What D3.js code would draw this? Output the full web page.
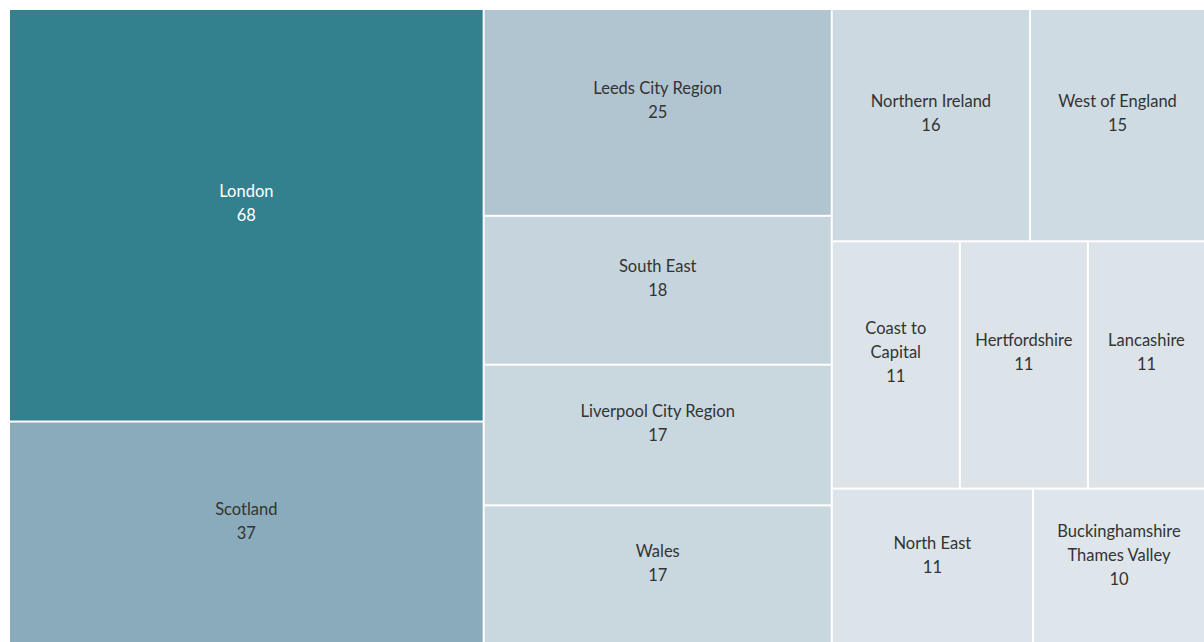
<!DOCTYPE html>
<html>
<head>
<meta charset="utf-8">
<script src="https://cdn.jsdelivr.net/npm/d3@7"></script>
<style>
  body { margin: 0; background: #fff; overflow: hidden; }
  text { font-family: Lato, "Noto Sans", sans-serif; font-size: 16.5px; }
</style>
</head>
<body>
<svg id="chart" width="1204" height="642"></svg>
<script>
// regions and their counts
const regions = ["London", "Scotland", "Leeds City Region", "South East", "Liverpool City Region",
  "Wales", "Northern Ireland", "West of England", "Coast to Capital", "Hertfordshire",
  "Lancashire", "North East", "Buckinghamshire Thames Valley"];
const counts = [68, 37, 25, 18, 17, 17, 16, 15, 11, 11, 11, 11, 10];

const margin = {top: 10, left: 10};
const width = 1205, height = 635;

const svg = d3.select("#chart");
const g = svg.append("g").attr("transform", "translate(" + margin.left + "," + margin.top + ")");

const root = d3.hierarchy({children: regions.map((r, i) => ({name: r, value: counts[i]}))})
  .sum(d => d.value || 0)
  .sort((a, b) => b.value - a.value);

d3.treemap()
  .tile(d3.treemapSquarify)
  .size([width, height])
  .paddingInner(2)(root);

const color = d3.scaleLinear()
  .domain([10, 37, 68])
  .range(["#dfe6eb", "#8aabbb", "#33808f"]);

const cell = g.selectAll("g.cell").data(root.leaves()).enter().append("g")
  .attr("class", "cell")
  .attr("transform", d => "translate(" + d.x0 + "," + d.y0 + ")");

cell.append("rect")
  .attr("width", d => d.x1 - d.x0)
  .attr("height", d => d.y1 - d.y0)
  .attr("fill", d => color(d.value));

cell.each(function(d) {
  // keep labels inside the visible part of the svg
  const w = Math.min(d.x1, 1194) - d.x0, h = d.y1 - d.y0;
  const el = d3.select(this);
  const txt = el.append("text")
    .attr("text-anchor", "middle")
    .attr("fill", d.value > 50 ? "#ffffff" : "#333333");

  // wrap the name to the box width
  const words = d.data.name.split(" ");
  const lines = [];
  let line = [];
  const probe = txt.append("tspan");
  words.forEach(wd => {
    line.push(wd);
    probe.text(line.join(" "));
    if (probe.node().getComputedTextLength() > w - 24 && line.length > 1) {
      line.pop();
      lines.push(line.join(" "));
      line = [wd];
    }
  });
  lines.push(line.join(" "));
  probe.remove();
  lines.push(String(d.value));

  const n = lines.length;
  const cy = h / 2 - 12;
  lines.forEach((l, i) => {
    txt.append("tspan")
      .attr("x", w / 2)
      .attr("y", cy + (i - (n - 1) / 2) * 24 + 5.5)
      .text(l);
  });
});
</script>
</body>
</html>
